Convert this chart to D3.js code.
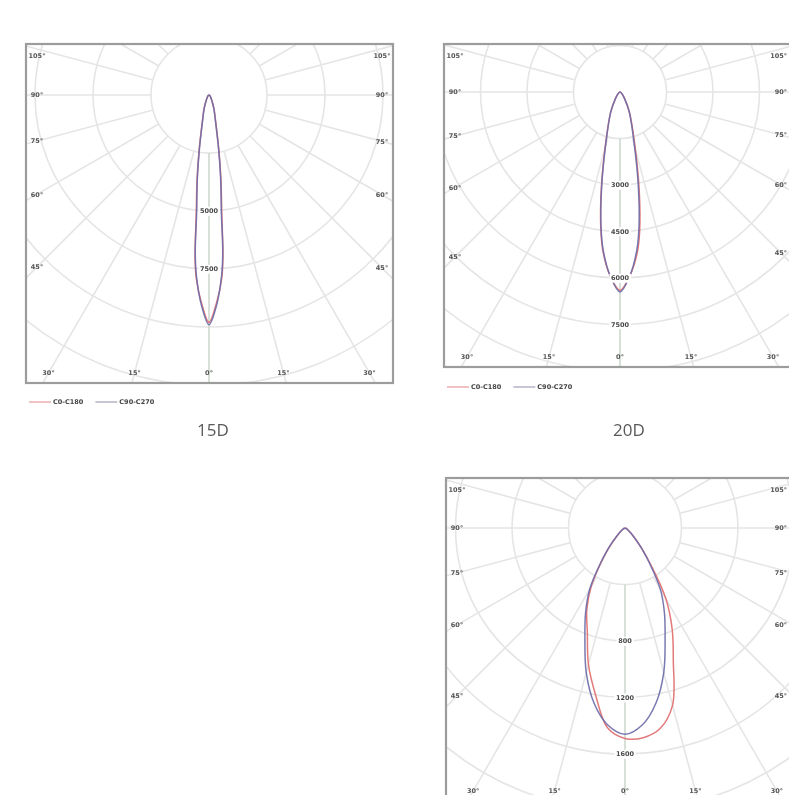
<!DOCTYPE html>
<html><head><meta charset="utf-8">
<script src="https://cdn.jsdelivr.net/npm/d3@7"></script>
<style>html,body{margin:0;padding:0;background:#fff;}svg{display:block}</style>
</head><body>
<svg id="chart" width="789" height="795"></svg>
<script>
// ---------------- data ----------------
const seriesNames = ["C0-C180", "C90-C270"];
const panelTitles = ["15D", "20D", ""];
const sideAngleLabels = [105, 90, 75, 60, 45];
const bottomAngleLabels = [30, 15, 0];
const gridAngles = [0, 15, 30, 45, 60, 75, 90, 105, 120, 135, 150, 165, 180];

// 15D
const angles15 = [0, 2, 4, 5, 6, 8, 10, 15, 20, 30, 45, 60, 90];
const c0_15   = [9800, 9000, 7900, 6900, 5300, 3700, 2500, 1050, 620, 210, 80, 30, 0];
const c180_15 = [9800, 9000, 7900, 6900, 5300, 3700, 2500, 1050, 620, 210, 80, 30, 0];
const c90_15  = [9900, 9100, 7800, 6800, 5100, 3600, 2400, 1000, 600, 200, 80, 30, 0];
const ringLabels15 = ["5000", "7500"];

// 20D
const angles20 = [0, 3, 6, 8, 11, 16, 25, 35, 45, 60, 90];
const c0_20   = [6400, 5950, 5250, 4550, 3250, 1700, 720, 260, 100, 30, 0];
const c180_20 = [6400, 5950, 5200, 4450, 3150, 1650, 700, 250, 100, 30, 0];
const c90_20  = [6450, 5950, 5150, 4400, 3100, 1600, 700, 250, 100, 30, 0];
const ringLabels20 = ["3000", "4500", "6000", "7500"];

// third beam
const angles3 = [0, 5, 10, 15, 20, 25, 30, 35, 40, 45, 50, 60, 70, 90];
const c0_3   = [1490, 1490, 1440, 1300, 1000, 790, 580, 320, 170, 90, 50, 20, 5, 0];
const c180_3 = [1490, 1420, 1200, 1000, 780, 640, 480, 290, 160, 80, 45, 18, 5, 0];
const c90_3  = [1460, 1400, 1260, 1060, 830, 660, 500, 300, 170, 85, 45, 18, 5, 0];
const ringLabels3 = ["800", "1200", "1600"];

// ---------------- layout ----------------
const W = 789;
const colors = ["#df6b6b", "#6c6caa"];
const panels = [
  {x:26, y:44, w:367, h:339, cx:209, cy:95, ringPx:58, step:2500, firstLabelRing:2,
   angles:angles15, series:[[c0_15, c180_15],[c90_15, c90_15]], ringLabels:ringLabels15,
   title:panelTitles[0], legend:true, legendDy:19, titleY:430, titleX:213},
  {x:444, y:44, w:348, h:323, cx:620, cy:92, ringPx:46.5, step:1500, firstLabelRing:2,
   angles:angles20, series:[[c0_20, c180_20],[c90_20, c90_20]], ringLabels:ringLabels20,
   title:panelTitles[1], legend:true, legendDy:20, titleY:430, titleX:629},
  {x:446, y:478, w:358, h:323, cx:625, cy:528, ringPx:56.5, step:400, firstLabelRing:2,
   angles:angles3, series:[[c0_3, c180_3],[c90_3, c90_3]], ringLabels:ringLabels3,
   title:panelTitles[2], legend:false}
];

const svg = d3.select("#chart");
const defs = svg.append("defs");
defs.append("filter").attr("id","soft").append("feGaussianBlur").attr("stdDeviation",0.55);
const root = svg.append("g").attr("filter","url(#soft)");
const rad = Math.PI/180;

panels.forEach((p, pi) => {
  const r = d3.scaleLinear().domain([0, p.step]).range([0, p.ringPx]);
  const clipId = "clip"+pi;
  defs.append("clipPath").attr("id", clipId)
    .append("rect").attr("x", p.x).attr("y", p.y).attr("width", p.w).attr("height", p.h);

  const g = root.append("g");
  g.append("rect").attr("x", p.x).attr("y", p.y).attr("width", p.w).attr("height", p.h).attr("fill","#fff");

  const plot = g.append("g").attr("clip-path", `url(#${clipId})`)
    .append("g").attr("transform", `translate(${p.cx},${p.cy})`);

  // rings
  const nRings = d3.range(1, 9);
  plot.selectAll("circle.ring").data(nRings).join("circle")
    .attr("r", k => r(k*p.step)).attr("fill","none")
    .attr("stroke","#e5e5e5").attr("stroke-width",1.6);

  // rays
  const rays = [];
  gridAngles.forEach(a => {
    rays.push({a:a, s:1});
    if (a > 0 && a < 180) rays.push({a:a, s:-1});
  });
  const rayLine = d3.lineRadial().angle(d => d[0]).radius(d => d[1]);
  plot.selectAll("path.ray").data(rays).join("path")
    .attr("d", d => {
      const ang = Math.PI - d.s*d.a*rad;
      return rayLine([[ang, r(p.step)], [ang, r(p.step*20)]]);
    })
    .attr("fill","none")
    .attr("stroke", d => d.a === 0 ? "#cfd8cf" : "#e5e5e5")
    .attr("stroke-width",1.6);

  // curves
  const curve = d3.lineRadial()
    .angle(d => d.ang).radius(d => r(d.v))
    .curve(d3.curveCatmullRom.alpha(0.5));
  p.series.forEach((pair, si) => {
    const [right, left] = pair;
    const pts = [];
    for (let i = p.angles.length-1; i >= 0; i--) pts.push({ang: Math.PI + p.angles[i]*rad, v: left[i]});
    for (let i = 1; i < p.angles.length; i++) pts.push({ang: Math.PI - p.angles[i]*rad, v: right[i]});
    plot.append("path").attr("d", curve(pts))
      .attr("fill","none").attr("stroke", colors[si]).attr("stroke-width",1.5)
      .attr("stroke-opacity", 0.9);
  });

  // intensity labels on 0° axis
  p.ringLabels.forEach((lab, i) => {
    const k = p.firstLabelRing + i;
    const y = r(k*p.step);
    const t = plot.append("text").attr("x",0).attr("y",y).attr("dy","0.35em")
      .attr("text-anchor","middle").attr("font-family","DejaVu Sans, sans-serif")
      .attr("font-size",6.5).attr("font-weight","bold").attr("fill","#4a4a4a").text(lab);
    const bb = t.node().getBBox();
    plot.insert("rect", () => t.node())
      .attr("x", bb.x-1.5).attr("y", bb.y-0.5).attr("width", bb.width+3).attr("height", bb.height+1)
      .attr("fill","#fff");
  });

  // angle labels
  const lg = g.append("g")
    .attr("font-family","DejaVu Sans, sans-serif").attr("font-size",6.5)
    .attr("font-weight","bold").attr("fill","#555");
  const inX = 11, top = p.y + 12, bottom = p.y + p.h - 10;
  [-1, 1].forEach(s => {
    sideAngleLabels.forEach(a => {
      const ex = s < 0 ? p.x + inX : p.x + p.w - inX;
      const dx = Math.abs(ex - p.cx);
      let y = p.cy + dx / Math.tan(a*rad);
      y = Math.max(top, y);
      const t = lg.append("text").attr("x", ex).attr("y", y).attr("dy","0.35em")
        .attr("text-anchor","middle").text(a + "°");
      if (ex + t.node().getComputedTextLength()/2 > W - 2) {
        t.attr("text-anchor","end").attr("x", W - 2);
      }
    });
    bottomAngleLabels.forEach(a => {
      if (a === 0 && s > 0) return;
      let x = p.cx + s*(bottom - p.cy)*Math.tan(a*rad);
      x = Math.max(p.x + 14, Math.min(p.x + p.w - 14, x));
      const t = lg.append("text").attr("x", x).attr("y", bottom).attr("dy","0.35em")
        .attr("text-anchor","middle").text(a + "°");
      if (x + t.node().getComputedTextLength()/2 > W - 2) {
        t.attr("text-anchor","end").attr("x", W - 2);
      }
    });
  });

  // frame
  g.append("rect").attr("x", p.x).attr("y", p.y).attr("width", p.w).attr("height", p.h)
    .attr("fill","none").attr("stroke","#9c9c9c").attr("stroke-width",2.2);

  // legend
  if (p.legend) {
    const ly = p.y + p.h + p.legendDy;
    const leg = g.append("g").attr("font-family","DejaVu Sans, sans-serif")
      .attr("font-size",6.5).attr("font-weight","bold").attr("fill","#444");
    let lx = p.x + 3;
    seriesNames.forEach((nm, si) => {
      leg.append("line").attr("x1", lx).attr("x2", lx+22).attr("y1", ly).attr("y2", ly)
        .attr("stroke", si === 0 ? "#e89a9a" : "#a0a0b8").attr("stroke-width",1.2);
      const t = leg.append("text").attr("x", lx+24).attr("y", ly).attr("dy","0.35em").text(nm);
      lx += 24 + t.node().getComputedTextLength() + 12;
    });
  }
  if (p.title) {
    g.append("text").attr("x", p.titleX || p.cx + 2).attr("y", p.titleY).attr("dy","0.35em")
      .attr("text-anchor","middle").attr("font-family","Open Sans, sans-serif")
      .attr("font-size",17).attr("fill","#5a5a5a").text(p.title);
  }
});
</script>
</body></html>
